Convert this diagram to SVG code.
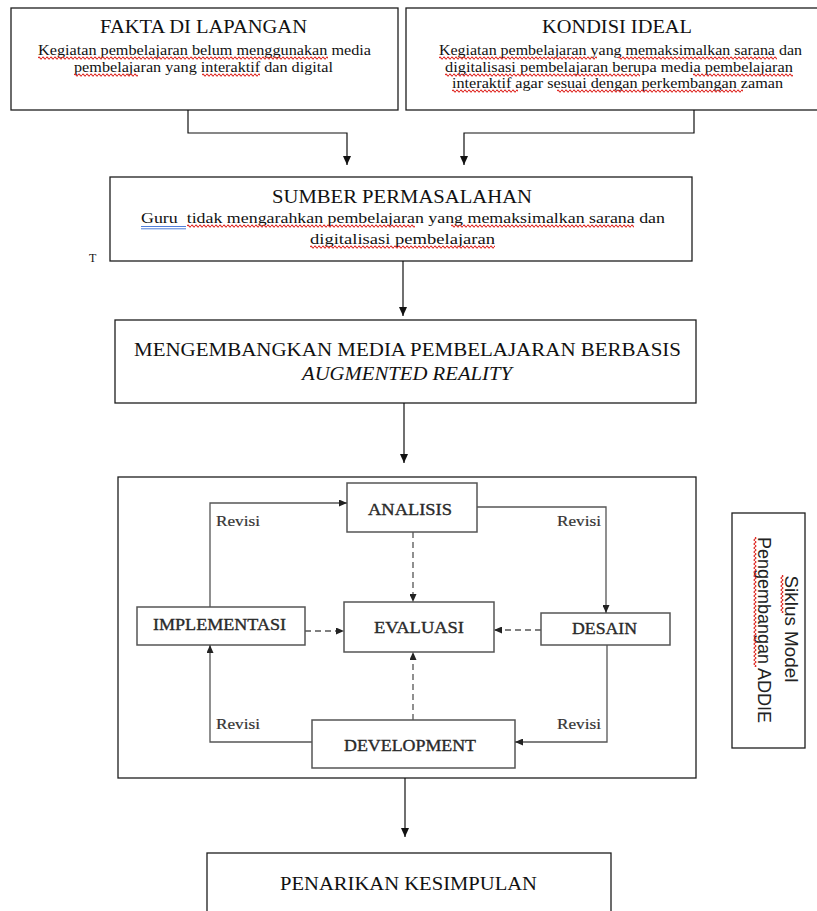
<svg xmlns="http://www.w3.org/2000/svg" width="817" height="911" viewBox="0 0 817 911">
<style>
.bg{fill:#fff}
.box{fill:#fff;stroke:#1e1e1e;stroke-width:1.3}
.ibox{fill:#fff;stroke:#555;stroke-width:1.5}
.t{font-family:"Liberation Serif","Times New Roman",serif;fill:#111;text-anchor:middle}
.ti{font-size:19px}
.st{font-size:14px}
.n{font-size:16px;fill:#2a2a2a;stroke:#2a2a2a;stroke-width:0.35}
.rv{font-size:15px;fill:#333;text-anchor:start;stroke:#333;stroke-width:0.2}
.s{font-family:"Liberation Sans",Arial,sans-serif;font-size:18px;fill:#222;text-anchor:middle}
.conn{fill:none;stroke:#111;stroke-width:1.2}
.ic{fill:none;stroke:#555;stroke-width:1.3}
.dash{stroke-dasharray:6 4}
.sp{fill:url(#wave)}
</style>
<defs>
<marker id="ab" markerUnits="userSpaceOnUse" markerWidth="9" markerHeight="8" refX="9" refY="4" orient="auto"><path d="M0,0 L9,4 L0,8 z" fill="#111"/></marker>
<marker id="ag" markerUnits="userSpaceOnUse" markerWidth="8" markerHeight="7" refX="8" refY="3.5" orient="auto"><path d="M0,0 L8,3.5 L0,7 z" fill="#222"/></marker>
<pattern id="wave" patternUnits="userSpaceOnUse" width="4" height="4"><path d="M0,2 Q1,0.2 2,2 T4,2" fill="none" stroke="#e02a25" stroke-width="1.1"/></pattern>
</defs>
<rect class="bg" x="0" y="0" width="817" height="911"/>

<g id="fakta">
<rect class="box" x="11" y="8" width="387" height="102"/>
<text class="t ti" x="203.5" y="33" textLength="207" lengthAdjust="spacingAndGlyphs">FAKTA DI LAPANGAN</text>
<text class="t st" x="204.5" y="55" textLength="333" lengthAdjust="spacingAndGlyphs">Kegiatan pembelajaran belum menggunakan media</text>
<text class="t st" x="203.5" y="72" textLength="259" lengthAdjust="spacingAndGlyphs">pembelajaran yang interaktif dan digital</text>
<rect class="sp" transform="translate(38,56)" width="290" height="4"/>
<rect class="sp" transform="translate(74,73)" width="64" height="4"/>
<rect class="sp" transform="translate(202,73)" width="58" height="4"/>
</g>

<g id="kondisi">
<rect class="box" x="406" y="8" width="412" height="102"/>
<text class="t ti" x="617" y="33" textLength="150" lengthAdjust="spacingAndGlyphs">KONDISI IDEAL</text>
<text class="t st" x="620.5" y="55" textLength="363" lengthAdjust="spacingAndGlyphs">Kegiatan pembelajaran yang memaksimalkan sarana dan</text>
<text class="t st" x="619" y="72" textLength="348" lengthAdjust="spacingAndGlyphs">digitalisasi pembelajaran berupa media pembelajaran</text>
<text class="t st" x="617.5" y="88" textLength="331" lengthAdjust="spacingAndGlyphs">interaktif agar sesuai dengan perkembangan zaman</text>
<rect class="sp" transform="translate(439,56)" width="158" height="4"/>
<rect class="sp" transform="translate(618,56)" width="159" height="4"/>
<rect class="sp" transform="translate(445,73)" width="195" height="4"/>
<rect class="sp" transform="translate(693,73)" width="100" height="4"/>
<rect class="sp" transform="translate(452,89)" width="66" height="4"/>
<rect class="sp" transform="translate(557,89)" width="186" height="4"/>
</g>

<g id="sumber">
<rect class="box" x="110" y="177" width="582" height="84"/>
<text class="t ti" x="402" y="203" textLength="260" lengthAdjust="spacingAndGlyphs">SUMBER PERMASALAHAN</text>
<text class="t st" x="403" y="223" textLength="524" lengthAdjust="spacingAndGlyphs" xml:space="preserve">Guru  tidak mengarahkan pembelajaran yang memaksimalkan sarana dan</text>
<text class="t st" x="402.5" y="244" textLength="185" lengthAdjust="spacingAndGlyphs">digitalisasi pembelajaran</text>
<path d="M141,226.5 H186 M141,228.8 H186" stroke="#3b6fd6" stroke-width="0.9" fill="none"/>
<rect class="sp" transform="translate(187,224)" width="228" height="4"/>
<rect class="sp" transform="translate(451,224)" width="183" height="4"/>
<rect class="sp" transform="translate(310,245)" width="185" height="4"/>
</g>

<text id="t-mark" x="89" y="262" font-family="Liberation Serif,serif" font-size="12" fill="#111">T</text>

<g id="mengembangkan">
<rect class="box" x="115" y="320" width="581" height="83"/>
<text class="t ti" x="407.5" y="356" textLength="547" lengthAdjust="spacingAndGlyphs">MENGEMBANGKAN MEDIA PEMBELAJARAN BERBASIS</text>
<text class="t ti" x="407" y="380" font-style="italic" textLength="210" lengthAdjust="spacingAndGlyphs">AUGMENTED REALITY</text>
</g>

<g id="addie-frame">
<rect class="box" x="118" y="477" width="578" height="301"/>
</g>

<g id="analisis">
<rect class="ibox" x="347" y="483" width="130" height="49"/>
<text class="t n" x="410" y="515" textLength="84" lengthAdjust="spacingAndGlyphs">ANALISIS</text>
</g>
<g id="evaluasi">
<rect class="ibox" x="344" y="602" width="150" height="50"/>
<text class="t n" x="419" y="633" textLength="90" lengthAdjust="spacingAndGlyphs">EVALUASI</text>
</g>
<g id="implementasi">
<rect class="ibox" x="137" y="607" width="168" height="38"/>
<text class="t n" x="219.5" y="630" textLength="133" lengthAdjust="spacingAndGlyphs">IMPLEMENTASI</text>
</g>
<g id="desain">
<rect class="ibox" x="541" y="613" width="129" height="32"/>
<text class="t n" x="604.5" y="634" textLength="65" lengthAdjust="spacingAndGlyphs">DESAIN</text>
</g>
<g id="development">
<rect class="ibox" x="312" y="720" width="203" height="48"/>
<text class="t n" x="410" y="751" textLength="132" lengthAdjust="spacingAndGlyphs">DEVELOPMENT</text>
</g>

<g id="siklus">
<rect class="box" x="732" y="513" width="73" height="235"/>
<text class="s" transform="translate(785,629) rotate(90)" x="0" y="0" textLength="107" lengthAdjust="spacingAndGlyphs">Siklus Model</text>
<text class="s" transform="translate(758,630) rotate(90)" x="0" y="0" textLength="186" lengthAdjust="spacingAndGlyphs">Pengembangan ADDIE</text>
<rect class="sp" transform="translate(784,575) rotate(90)" width="38" height="4"/>
<rect class="sp" transform="translate(757,537) rotate(90)" width="130" height="4"/>
</g>

<g id="penarikan">
<rect class="box" x="207" y="853" width="404" height="80"/>
<text class="t ti" x="408.5" y="890" textLength="257" lengthAdjust="spacingAndGlyphs">PENARIKAN KESIMPULAN</text>
</g>

<g id="connectors">
<path class="conn" d="M188,110 V133 H347 V165" marker-end="url(#ab)"/>
<path class="conn" d="M694,110 V133 H464 V165" marker-end="url(#ab)"/>
<path class="conn" d="M403,261 V316" marker-end="url(#ab)"/>
<path class="conn" d="M404,403 V463" marker-end="url(#ab)"/>
<path class="conn" d="M405,778 V837" marker-end="url(#ab)"/>
<path class="ic" d="M210,607 V503 H347" marker-end="url(#ag)"/>
<path class="ic" d="M477,507 H606 V613" marker-end="url(#ag)"/>
<path class="ic" d="M607,645 V742 H515" marker-end="url(#ag)"/>
<path class="ic" d="M312,742 H210 V645" marker-end="url(#ag)"/>
<path class="ic dash" d="M413,532 V602" marker-end="url(#ag)"/>
<path class="ic dash" d="M541,630 H494" marker-end="url(#ag)"/>
<path class="ic dash" d="M305,631 H344" marker-end="url(#ag)"/>
<path class="ic dash" d="M413,720 V652" marker-end="url(#ag)"/>
<text class="t rv" x="216" y="526" textLength="44" lengthAdjust="spacingAndGlyphs">Revisi</text>
<text class="t rv" x="557" y="526" textLength="44" lengthAdjust="spacingAndGlyphs">Revisi</text>
<text class="t rv" x="216" y="729" textLength="44" lengthAdjust="spacingAndGlyphs">Revisi</text>
<text class="t rv" x="557" y="729" textLength="44" lengthAdjust="spacingAndGlyphs">Revisi</text>
</g>
</svg>
